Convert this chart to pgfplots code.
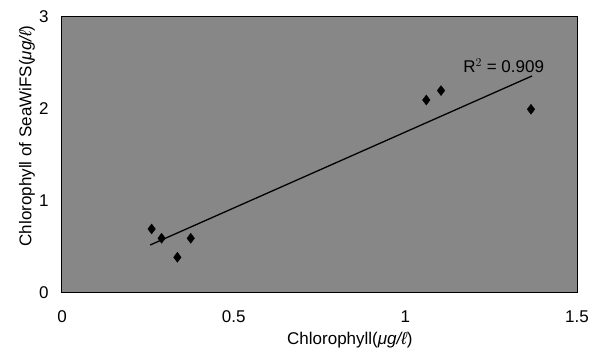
\documentclass[border=0pt]{standalone}
\usepackage{pgfplots}
\pgfplotsset{compat=1.18}
\usepackage{fontspec}
\setmainfont{Liberation Sans}
\begin{document}
\begin{tikzpicture}
\begin{axis}[
  at={(0,0)}, anchor=south west,
  scale only axis, width=515pt, height=276pt,
  xmin=0, xmax=1.5, ymin=0, ymax=3,
  xtick={0,0.5,1,1.5}, ytick={0,1,2,3},
  xticklabels={0,0.5,1,1.5},
  major tick length=0pt,
  axis background/.style={fill=black!47},
  axis line style={black, line width=1pt},
  tick label style={font=\fontsize{17}{19}\selectfont},
  xticklabel style={anchor=center, yshift=-24pt},
  yticklabel style={anchor=east, xshift=-10pt},
  /pgf/number format/assume math mode=true,
  xlabel={Chlorophyll({\itshape μg/ℓ})},
  ylabel={Chlorophyll of SeaWiFS({\itshape μg/ℓ})},
  label style={font=\fontsize{17}{19}\selectfont},
  xlabel style={at={(axis description cs:0.559,0)}, anchor=center, yshift=-47pt},
  ylabel style={at={(axis description cs:0,0.569)}, anchor=center, yshift=35pt},
]
\addplot[only marks, mark=diamond*, mark size=5pt, black] coordinates {
 (0.261,0.696) (0.290,0.595) (0.375,0.595) (0.336,0.388)
 (1.061,2.098) (1.104,2.20) (1.366,1.997)
};
\addplot[black, line width=1.3pt] coordinates {(0.257,0.522) (1.369,2.359)};
\node[anchor=west, font=\fontsize{17}{19}\selectfont] at (axis cs:1.159,2.467) {R$^2$ = 0.909};
\end{axis}
\pgfresetboundingbox
\path[use as bounding box] (-62pt,-59pt) rectangle (530pt,293pt);
\end{tikzpicture}
\end{document}
